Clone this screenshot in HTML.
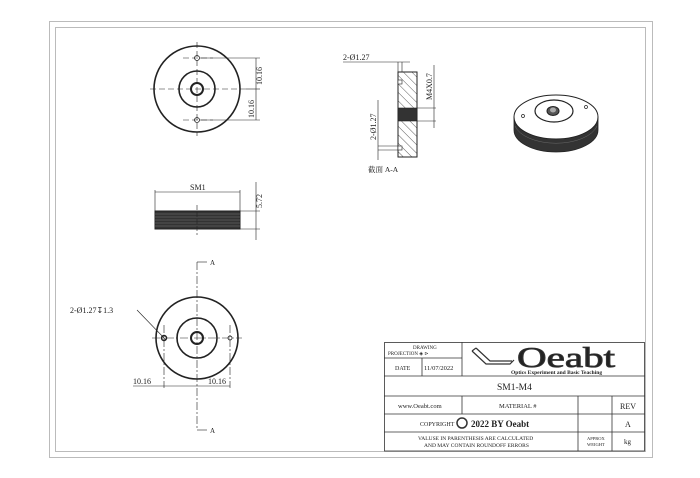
<!DOCTYPE html>
<html><head><meta charset="utf-8"><style>
html,body{margin:0;padding:0;background:#fff;}
svg{display:block;}
text{font-family:"Liberation Serif","Noto Serif CJK SC",serif;fill:#222;}
</style></head><body>
<svg width="700" height="478" viewBox="0 0 700 478" xmlns="http://www.w3.org/2000/svg">
<defs>
<pattern id="h" width="6" height="6" patternUnits="userSpaceOnUse" patternTransform="rotate(-45)">
<line x1="0" y1="0" x2="0" y2="6" stroke="#333" stroke-width="0.8"/>
</pattern>
</defs>
<rect x="49.5" y="21.5" width="603" height="436" fill="none" stroke="#bbb" stroke-width="1"/>
<rect x="55.5" y="27.5" width="590" height="424" fill="none" stroke="#bbb" stroke-width="1"/>

<!-- top view -->
<g stroke="#222" fill="none">
<circle cx="197" cy="89" r="43" stroke-width="1.6"/>
<circle cx="197" cy="89" r="18" stroke-width="1.6"/>
<circle cx="197" cy="89" r="6" stroke-width="2"/>
<circle cx="197" cy="58" r="2.5" stroke-width="0.8"/>
<circle cx="197" cy="120" r="2.5" stroke-width="0.8"/>
<g stroke-width="0.6" stroke-dasharray="6,3">
<line x1="150" y1="89" x2="246" y2="89"/>
<line x1="197" y1="42" x2="197" y2="136"/>
<line x1="183" y1="58" x2="213" y2="58"/>
<line x1="183" y1="120" x2="213" y2="120"/>
</g>
<g stroke-width="0.6">
<line x1="200" y1="58" x2="260" y2="58"/><line x1="200" y1="120" x2="260" y2="120"/>
<line x1="246" y1="89" x2="260" y2="89"/>
<line x1="256" y1="58" x2="256" y2="120"/>
</g>
</g>
<text x="0" y="0" font-size="8" transform="translate(262,85) rotate(-90)">10.16</text>
<text x="0" y="0" font-size="8" transform="translate(254,118) rotate(-90)">10.16</text>

<!-- side view -->
<g stroke="#222" fill="none">
<rect x="155" y="211" width="85" height="18" fill="#333" stroke-width="1"/>
<g stroke="#888" stroke-width="0.4">
<line x1="155" y1="214" x2="240" y2="214"/><line x1="155" y1="217" x2="240" y2="217"/><line x1="155" y1="220" x2="240" y2="220"/><line x1="155" y1="223" x2="240" y2="223"/><line x1="155" y1="226" x2="240" y2="226"/>
</g>
<g stroke-width="0.6">
<line x1="155" y1="190" x2="155" y2="211"/><line x1="240" y1="190" x2="240" y2="211"/>
<line x1="155" y1="192" x2="240" y2="192"/>
<line x1="240" y1="211" x2="260" y2="211"/><line x1="240" y1="229" x2="260" y2="229"/>
<line x1="256" y1="182" x2="256" y2="240"/>
<line x1="197" y1="205" x2="197" y2="235" stroke-dasharray="5,2"/>
</g>
</g>
<text x="190" y="190" font-size="8">SM1</text>
<text x="0" y="0" font-size="8" transform="translate(262,208) rotate(-90)">5.72</text>

<!-- front view -->
<g stroke="#222" fill="none">
<circle cx="197" cy="338" r="41" stroke-width="1.6"/>
<circle cx="197" cy="338" r="20" stroke-width="1.6"/>
<circle cx="197" cy="338" r="6" stroke-width="2"/>
<circle cx="164" cy="338" r="2.5" stroke-width="1.5"/>
<circle cx="230" cy="338" r="2" stroke-width="0.8"/>
<g stroke-width="0.6" stroke-dasharray="8,2,2,2">
<line x1="197" y1="262" x2="197" y2="430"/>
<line x1="152" y1="338" x2="242" y2="338"/>
<line x1="164" y1="325" x2="164" y2="388"/>
<line x1="230" y1="325" x2="230" y2="388"/>
</g>
<g stroke-width="0.6">
<line x1="197" y1="262" x2="207" y2="262"/><line x1="197" y1="430" x2="207" y2="430"/>
<line x1="133" y1="386" x2="230" y2="386"/>
<line x1="137" y1="310" x2="166" y2="340"/>
</g>
</g>
<text x="210" y="265" font-size="7">A</text>
<text x="210" y="433" font-size="7">A</text>
<text x="70" y="313" font-size="8">2-Ø1.27↧1.3</text>
<text x="133" y="384" font-size="8">10.16</text>
<text x="208" y="384" font-size="8">10.16</text>

<!-- section -->
<g stroke="#222">
<rect x="398" y="72" width="19" height="85" fill="url(#h)" stroke-width="1"/>
<rect x="398" y="108" width="19" height="13" fill="#333" stroke-width="0.6"/>
<rect x="398" y="80" width="4" height="4" fill="#fff" stroke-width="0.6"/>
<rect x="398" y="146" width="4" height="4" fill="#fff" stroke-width="0.6"/>
<g stroke-width="0.6" fill="none">
<line x1="343" y1="62" x2="410" y2="62"/>
<line x1="398" y1="62" x2="398" y2="72"/><line x1="402" y1="62" x2="402" y2="72"/>
<line x1="417" y1="108" x2="436" y2="108"/><line x1="417" y1="121" x2="436" y2="121"/>
<line x1="434" y1="65" x2="434" y2="128"/>
<line x1="378" y1="100" x2="378" y2="160"/>
<line x1="378" y1="146" x2="398" y2="146"/><line x1="378" y1="150" x2="398" y2="150"/>
</g>
</g>
<text x="343" y="60" font-size="8">2-Ø1.27</text>
<text x="0" y="0" font-size="8" transform="translate(432,100) rotate(-90)">M4X0.7</text>
<text x="0" y="0" font-size="8" transform="translate(376,140) rotate(-90)">2-Ø1.27</text>
<text x="368" y="172" font-size="7.5">截面  A-A</text>

<!-- iso -->
<g stroke="#222">
<path d="M514 117 L514 130 A42 22 0 0 0 598 130 L598 117" fill="#333" stroke-width="0.8"/>
<path d="M515 122 A42 22 0 0 0 597 122 M515 126 A42 22 0 0 0 597 126" fill="none" stroke="#777" stroke-width="0.4"/>
<ellipse cx="556" cy="117" rx="42" ry="22" fill="#fff" stroke-width="1"/>
<ellipse cx="554" cy="111" rx="19" ry="11" fill="none" stroke-width="1.2"/>
<ellipse cx="553" cy="111" rx="6" ry="4.5" fill="#555" stroke-width="1"/>
<ellipse cx="553" cy="110" rx="3" ry="2.5" fill="#aaa" stroke="none"/>
<circle cx="523" cy="116" r="1.5" fill="none" stroke-width="0.7"/>
<circle cx="586" cy="107" r="1.5" fill="none" stroke-width="0.7"/>
</g>

<!-- title block -->
<g stroke="#333" stroke-width="0.8" fill="none">
<rect x="384.5" y="342.5" width="260" height="108.5"/>
<line x1="384" y1="358" x2="462" y2="358"/>
<line x1="384" y1="376" x2="645" y2="376"/>
<line x1="384" y1="396" x2="645" y2="396"/>
<line x1="384" y1="414" x2="645" y2="414"/>
<line x1="384" y1="432" x2="645" y2="432"/>
<line x1="462" y1="342" x2="462" y2="376"/>
<line x1="422" y1="358" x2="422" y2="376"/>
<line x1="462" y1="396" x2="462" y2="414"/>
<line x1="578" y1="396" x2="578" y2="451"/>
<line x1="612" y1="396" x2="612" y2="451"/>
</g>
<text x="413" y="349" font-size="5">DRAWING</text>
<text x="388" y="355" font-size="5">PROJECTION ◈ ⊳</text>
<text x="395" y="370" font-size="6">DATE</text>
<text x="424" y="370" font-size="6.5">11/07/2022</text>
<g stroke="#333" fill="none" stroke-width="1.2">
<path d="M472 351 L486 364 L510 364 L514 360 M476 348 L490 361 L512 361 M472 351 L476 348"/>
</g>
<text x="517" y="367" font-size="28" font-family="Liberation Sans" fill="none" stroke="#333" stroke-width="0.8" textLength="98" lengthAdjust="spacingAndGlyphs">Oeabt</text>
<text x="511" y="374" font-size="5.5" font-family="Liberation Sans" font-weight="bold">Optics Experiment and Basic Teaching</text>
<text x="497" y="390" font-size="9.5">SM1-M4</text>
<text x="398" y="408" font-size="6.5">www.Oeabt.com</text>
<text x="499" y="408" font-size="6.5">MATERIAL #</text>
<text x="620" y="409" font-size="8">REV</text>
<text x="420" y="426" font-size="6">COPYRIGHT</text>
<circle cx="462" cy="423" r="5" fill="none" stroke="#333" stroke-width="1.5"/>
<text x="471" y="427" font-size="9" font-weight="bold">2022 BY Oeabt</text>
<text x="625" y="427" font-size="8">A</text>
<text x="418" y="440" font-size="5.5">VALUSE IN PARENTHESIS ARE CALCULATED</text>
<text x="424" y="447" font-size="5.5">AND MAY CONTAIN ROUNDOFF ERRORS</text>
<text x="587" y="440" font-size="4.5">APPROX</text>
<text x="587" y="446" font-size="4.5">WEIGHT</text>
<text x="624" y="444" font-size="7">kg</text>
</svg>
</body></html>
